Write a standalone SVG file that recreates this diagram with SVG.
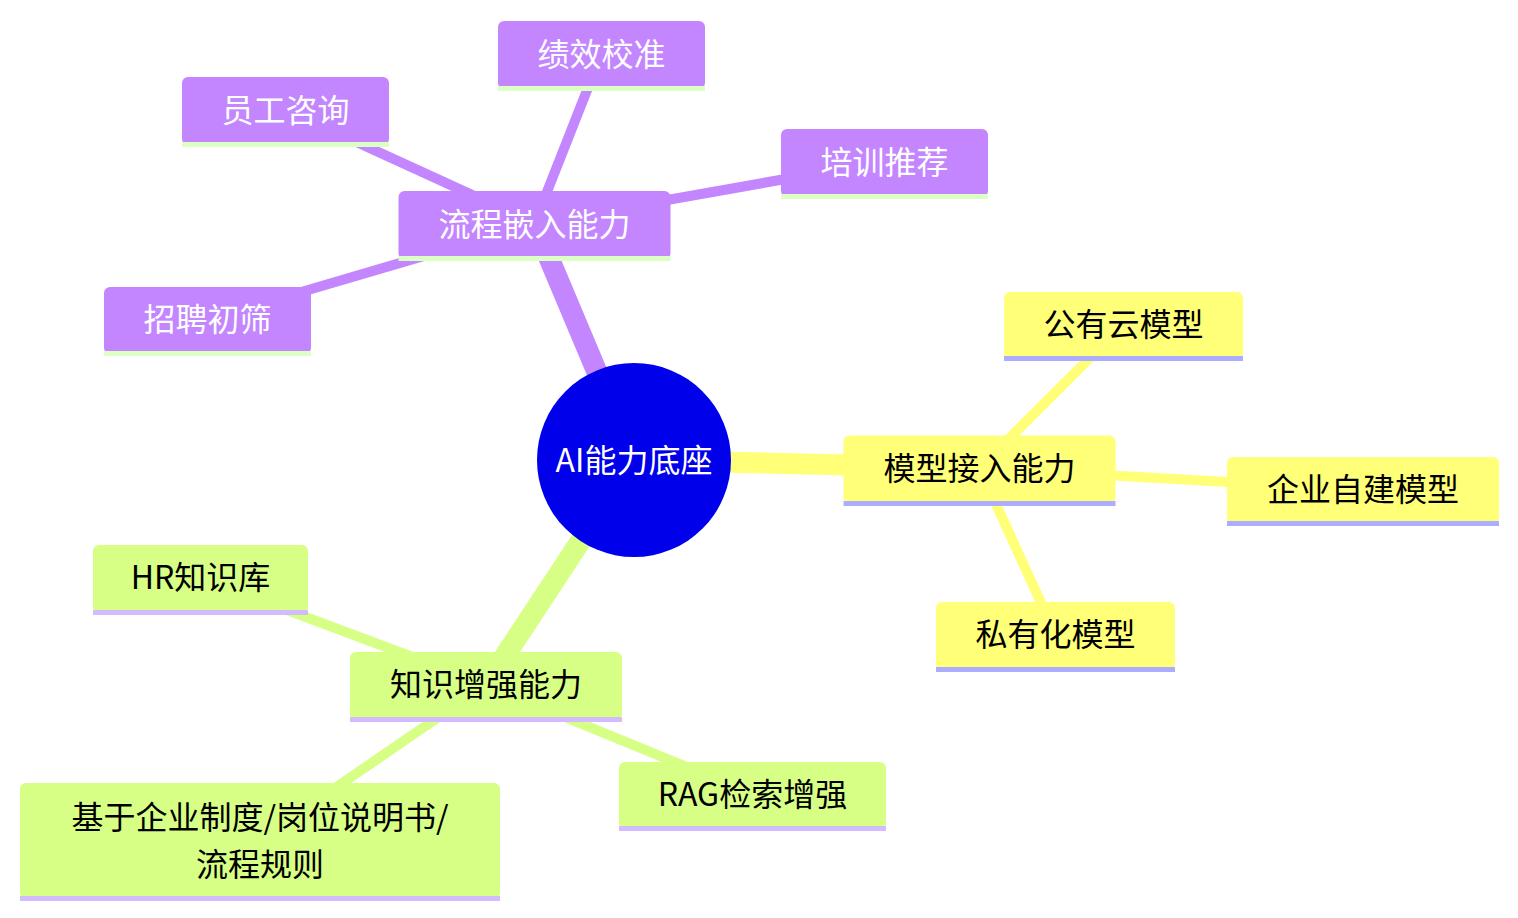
<svg xmlns="http://www.w3.org/2000/svg" width="1518" height="918" viewBox="0 0 1518 918">
<style>
  text { font-family: "Noto Sans CJK SC", "Noto Sans", sans-serif; font-size: 32px; text-anchor: middle; }
  .s0 { fill: #c386ff; }
  .s0l { fill: #dcffc4; }
  .s0t { fill: #ffffff; }
  .s1 { fill: #ffff78; }
  .s1l { fill: #adadff; }
  .s2 { fill: #d7ff86; }
  .s2l { fill: #d2bcff; }
  .dark { fill: #000000; }
  .e0 { stroke: #c386ff; }
  .e1 { stroke: #ffff78; }
  .e2 { stroke: #d7ff86; }
  .root { stroke-width: 21; stroke-linecap: butt; fill: none; }
  .child { stroke-width: 10; stroke-linecap: butt; fill: none; }
</style>
<rect width="1518" height="918" fill="#ffffff"/>
<g id="connectors">
  <line class="root e0" x1="634" y1="460" x2="534.5" y2="223.5"/>
  <line class="root e1" x1="634" y1="460" x2="979.5" y2="468"/>
  <line class="root e2" x1="634" y1="460" x2="486" y2="684.5"/>
  <line class="child e0" x1="534.5" y1="223.5" x2="601.5" y2="53.5"/>
  <line class="child e0" x1="534.5" y1="223.5" x2="285.5" y2="109.5"/>
  <line class="child e0" x1="534.5" y1="223.5" x2="884.5" y2="161.5"/>
  <line class="child e0" x1="534.5" y1="223.5" x2="207.5" y2="319.5"/>
  <line class="child e1" x1="979.5" y1="468" x2="1123.5" y2="324.5"/>
  <line class="child e1" x1="979.5" y1="468" x2="1363" y2="489.5"/>
  <line class="child e1" x1="979.5" y1="468" x2="1055.5" y2="634.5"/>
  <line class="child e2" x1="486" y1="684.5" x2="200.5" y2="577.5"/>
  <line class="child e2" x1="486" y1="684.5" x2="752.5" y2="794"/>
  <line class="child e2" x1="486" y1="684.5" x2="260" y2="839.5"/>
</g>
<g id="root">
  <circle cx="634" cy="460" r="97" fill="#0000eb"/>
  <text x="634" y="472" fill="#ffffff">AI能力底座</text>
</g>
<g id="n-liucheng">
  <rect class="s0" x="398.5" y="191" width="272" height="68" rx="6"/>
  <rect class="s0l" x="398.5" y="256" width="272" height="5"/>
  <text class="s0t" x="534.5" y="236">流程嵌入能力</text>
</g>
<g id="n-jixiao">
  <rect class="s0" x="498" y="21" width="207" height="68" rx="6"/>
  <rect class="s0l" x="498" y="86" width="207" height="5"/>
  <text class="s0t" x="601.5" y="66">绩效校准</text>
</g>
<g id="n-yuangong">
  <rect class="s0" x="182" y="77" width="207" height="68" rx="6"/>
  <rect class="s0l" x="182" y="142" width="207" height="5"/>
  <text class="s0t" x="285.5" y="122">员工咨询</text>
</g>
<g id="n-peixun">
  <rect class="s0" x="781" y="129" width="207" height="68" rx="6"/>
  <rect class="s0l" x="781" y="194" width="207" height="5"/>
  <text class="s0t" x="884.5" y="174">培训推荐</text>
</g>
<g id="n-zhaopin">
  <rect class="s0" x="104" y="287" width="207" height="67" rx="6"/>
  <rect class="s0l" x="104" y="351" width="207" height="5"/>
  <text class="s0t" x="207.5" y="331">招聘初筛</text>
</g>
<g id="n-moxing">
  <rect class="s1" x="843.5" y="435.5" width="272" height="68" rx="6"/>
  <rect class="s1l" x="843.5" y="501" width="272" height="5"/>
  <text class="dark" x="979.5" y="480">模型接入能力</text>
</g>
<g id="n-gongyou">
  <rect class="s1" x="1004" y="292" width="239" height="67" rx="6"/>
  <rect class="s1l" x="1004" y="356" width="239" height="5"/>
  <text class="dark" x="1123.5" y="336">公有云模型</text>
</g>
<g id="n-zijian">
  <rect class="s1" x="1227" y="457" width="272" height="67" rx="6"/>
  <rect class="s1l" x="1227" y="521" width="272" height="5"/>
  <text class="dark" x="1363" y="501">企业自建模型</text>
</g>
<g id="n-siyou">
  <rect class="s1" x="936" y="602" width="239" height="68" rx="6"/>
  <rect class="s1l" x="936" y="667" width="239" height="5"/>
  <text class="dark" x="1055.5" y="646">私有化模型</text>
</g>
<g id="n-zhishi">
  <rect class="s2" x="350" y="652" width="272" height="68" rx="6"/>
  <rect class="s2l" x="350" y="717" width="272" height="5"/>
  <text class="dark" x="486" y="696">知识增强能力</text>
</g>
<g id="n-hr">
  <rect class="s2" x="93" y="545" width="215" height="68" rx="6"/>
  <rect class="s2l" x="93" y="610" width="215" height="5"/>
  <text class="dark" x="200.5" y="589">HR知识库</text>
</g>
<g id="n-rag">
  <rect class="s2" x="619" y="762" width="267" height="67" rx="6"/>
  <rect class="s2l" x="619" y="826" width="267" height="5"/>
  <text class="dark" x="752.5" y="806">RAG检索增强</text>
</g>
<g id="n-jiyu">
  <rect class="s2" x="20" y="783" width="480" height="116" rx="6"/>
  <rect class="s2l" x="20" y="896" width="480" height="5"/>
  <text class="dark" x="260" y="829">基于企业制度/岗位说明书/</text>
  <text class="dark" x="260" y="876">流程规则</text>
</g>
</svg>
